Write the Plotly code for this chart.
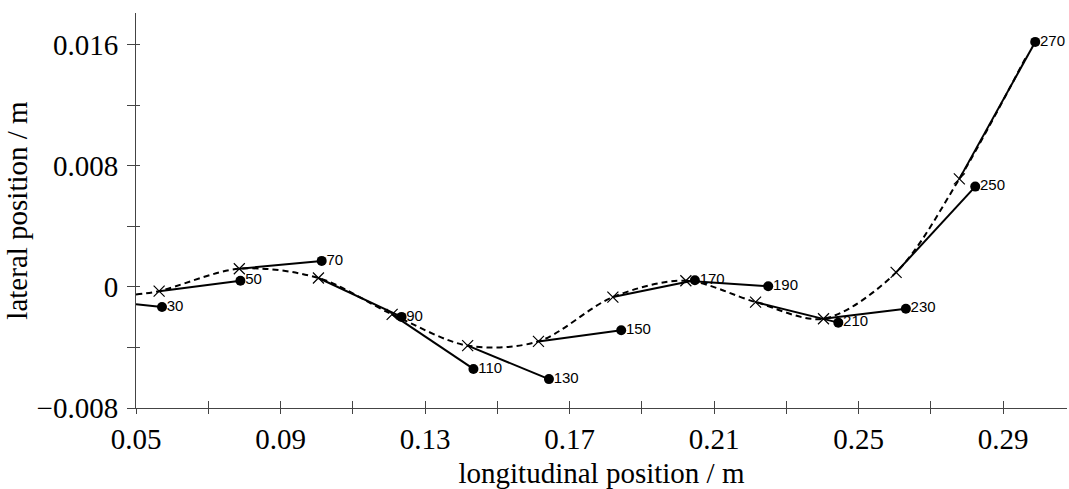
import plotly.graph_objects as go

# ---- data ----
circle_labels = ["30", "50", "70", "90", "110", "130", "150", "170", "190", "210", "230", "250", "270"]
circle_x = [0.0572, 0.0789, 0.1014, 0.1235, 0.1434, 0.1643, 0.1843, 0.2047, 0.2250, 0.2444, 0.2631, 0.2823, 0.2989]
circle_y = [-0.00133, 0.00041, 0.00172, -0.00198, -0.00542, -0.00609, -0.00286, 0.00044, 0.00005, -0.00236, -0.00144, 0.00663, 0.01619]

cross_x = [0.0564, 0.0786, 0.1005, 0.1209, 0.1418, 0.1614, 0.1820, 0.2022, 0.2215, 0.2403, 0.2604, 0.2779]
cross_y = [-0.00028, 0.00120, 0.00059, -0.00181, -0.00388, -0.00360, -0.00067, 0.00041, -0.00100, -0.00210, 0.00096, 0.00714]

# where the curves enter / leave the plotted window
solid_start = (0.0500, -0.00115)
dashed_start = (0.0500, -0.00050)
dashed_end = (0.2966, 0.01530)

x_tick_vals = [0.05, 0.07, 0.09, 0.11, 0.13, 0.15, 0.17, 0.19, 0.21, 0.23, 0.25, 0.27, 0.29]
x_tick_text = ["0.05", "", "0.09", "", "0.13", "", "0.17", "", "0.21", "", "0.25", "", "0.29"]
y_tick_vals = [-0.008, -0.004, 0.0, 0.004, 0.008, 0.012, 0.016]
y_tick_text = ["\u22120.008", "", "0", "", "0.008", "", "0.016"]

x_range = [0.05, 0.3077]
y_range = [-0.008, 0.0181]

# ---- build segments: each start point -> its circle ----
start_x = [solid_start[0]] + cross_x
start_y = [solid_start[1]] + cross_y
seg_x, seg_y = [], []
for sx, sy, cx, cy in zip(start_x, start_y, circle_x, circle_y):
    seg_x += [sx, cx, None]
    seg_y += [sy, cy, None]

dash_x = [dashed_start[0]] + cross_x + [dashed_end[0]]
dash_y = [dashed_start[1]] + cross_y + [dashed_end[1]]

serif = "Liberation Serif, Times New Roman, serif"
sans = "Liberation Sans, Arial, sans-serif"

fig = go.Figure()
fig.add_trace(go.Scatter(x=dash_x, y=dash_y, mode="lines",
                         line=dict(color="black", width=2, dash="6px,4px", shape="spline", smoothing=0.9),
                         showlegend=False, hoverinfo="skip"))
fig.add_trace(go.Scatter(x=seg_x, y=seg_y, mode="lines",
                         line=dict(color="black", width=2),
                         showlegend=False, hoverinfo="skip"))
fig.add_trace(go.Scatter(x=cross_x, y=cross_y, mode="markers",
                         marker=dict(symbol="x-thin", size=11, line=dict(color="black", width=1.2)),
                         showlegend=False))
fig.add_trace(go.Scatter(x=circle_x, y=circle_y, mode="markers",
                         marker=dict(symbol="circle", size=10, color="black"),
                         showlegend=False))
# labels next to the circles (transparent small marker sets the text offset)
fig.add_trace(go.Scatter(x=circle_x, y=circle_y, mode="markers+text",
                         marker=dict(symbol="circle", size=6, color="rgba(0,0,0,0)"),
                         text=circle_labels, textposition="middle right",
                         textfont=dict(family=sans, size=15, color="black"),
                         showlegend=False, cliponaxis=False, hoverinfo="skip"))
# empty trace to host the overlay axes carrying the inner halves of the ticks
fig.add_trace(go.Scatter(x=[None], y=[None], xaxis="x2", yaxis="y2",
                         showlegend=False, hoverinfo="skip"))

fig.update_layout(
    width=1069, height=489,
    margin=dict(l=136, r=2, t=13, b=79),
    paper_bgcolor="white", plot_bgcolor="white",
    font=dict(family=serif, color="black"),
    xaxis=dict(range=x_range, showgrid=False, zeroline=False,
               showline=True, linecolor="#444", linewidth=1,
               ticks="outside", ticklen=5, tickcolor="#444", tickwidth=1,
               tickvals=x_tick_vals, ticktext=x_tick_text,
               tickfont=dict(family=serif, size=29, color="black"),
               title=dict(text="longitudinal position / m", standoff=12,
                          font=dict(family=serif, size=29, color="black"))),
    yaxis=dict(range=y_range, showgrid=False, zeroline=False,
               showline=True, linecolor="#444", linewidth=1,
               ticks="outside", ticklen=8, tickcolor="#444", tickwidth=1,
               ticklabelstandoff=3,
               tickvals=y_tick_vals, ticktext=y_tick_text,
               tickfont=dict(family=serif, size=29, color="black"),
               title=dict(text="lateral position / m", standoff=0,
                          font=dict(family=serif, size=29, color="black"))),
    xaxis2=dict(range=x_range, overlaying="x", anchor="y2", side="bottom",
                showgrid=False, zeroline=False, showline=False,
                ticks="inside", ticklen=7, tickcolor="#444", tickwidth=1,
                tickvals=x_tick_vals, showticklabels=False),
    yaxis2=dict(range=y_range, overlaying="y", anchor="x2", side="left",
                showgrid=False, zeroline=False, showline=False,
                ticks="inside", ticklen=4, tickcolor="#444", tickwidth=1,
                tickvals=y_tick_vals, showticklabels=False),
)

fig.write_html("out.html",
               config={"displayModeBar": False},
               post_script="document.body.style.margin='0';document.body.style.overflow='hidden';")
